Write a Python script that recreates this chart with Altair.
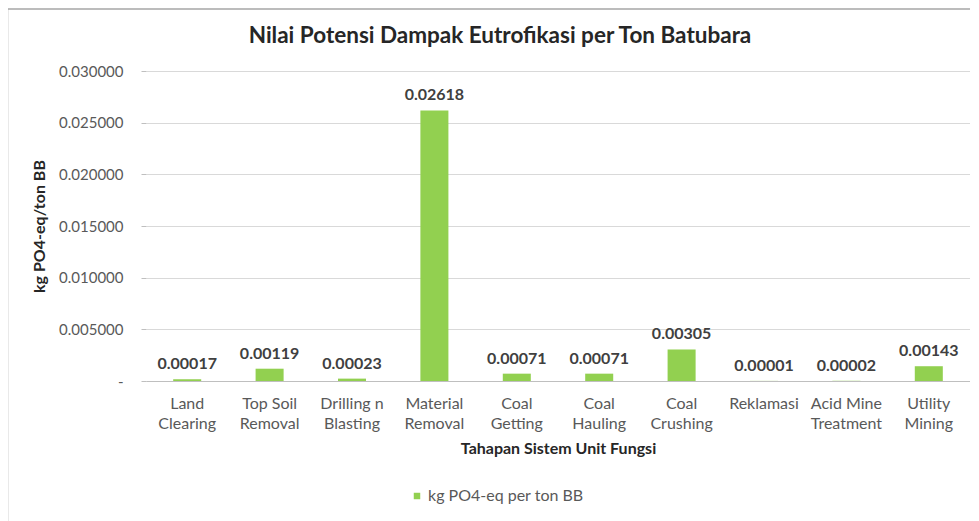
import altair as alt
import pandas as pd

categories = ["Land|Clearing", "Top Soil|Removal", "Drilling n|Blasting", "Material|Removal",
              "Coal|Getting", "Coal|Hauling", "Coal|Crushing", "Reklamasi",
              "Acid Mine|Treatment", "Utility|Mining"]
values = [0.00017, 0.00119, 0.00023, 0.02618, 0.00071, 0.00071, 0.00305, 0.00001, 0.00002, 0.00143]
series_name = "kg PO4-eq per ton BB"
y_ticks = [0, 0.005, 0.01, 0.015, 0.02, 0.025, 0.03]

df = pd.DataFrame({"cat": categories, "val": values, "series": series_name})

FONT = "Lato"
GREEN = "#92D050"

x_enc = alt.X("cat:N", sort=categories,
              scale=alt.Scale(paddingInner=0.66, paddingOuter=0.33),
              axis=alt.Axis(title="Tahapan Sistem Unit Fungsi",
                            labelExpr="split(datum.label, '|')",
                            labelAngle=0, ticks=False, labelPadding=14,
                            labelLineHeight=20, labelFontSize=16,
                            labelColor="#595959", labelFont=FONT,
                            titleFont=FONT, titleFontSize=16, titleFontWeight="bold",
                            titleColor="#262626", titlePadding=9,
                            domainColor="#BFBFBF", grid=False))
y_enc = alt.Y("val:Q", scale=alt.Scale(domain=[0, 0.03], nice=False),
              axis=alt.Axis(title="kg PO4-eq/ton BB", values=y_ticks,
                            labelExpr="datum.value == 0 ? '-' : format(datum.value, '.6f')",
                            labelFont=FONT, labelFontSize=15, labelColor="#595959",
                            labelPadding=18, tickSize=5, tickColor="#BFBFBF",
                            gridColor="#D9D9D9", domain=False,
                            titleFont=FONT, titleFontSize=16, titleFontWeight="bold",
                            titleColor="#262626", titlePadding=11))

bars = alt.Chart(df).mark_bar(color=GREEN).encode(
    x=x_enc, y=y_enc,
    color=alt.Color("series:N", scale=alt.Scale(range=[GREEN]),
                    legend=alt.Legend(title=None, orient="none", legendX=263, legendY=417,
                                      symbolType="square", symbolSize=42, labelOffset=3,
                                      labelFont=FONT, labelFontSize=16, labelColor="#595959")),
)

labels = alt.Chart(df).mark_text(baseline="bottom", dy=-7, font=FONT, fontSize=16,
                                  fontWeight="bold", color="#404040").encode(
    x=alt.X("cat:N", sort=categories), y="val:Q",
    text=alt.Text("val:Q", format=".5f"))

border = alt.Chart(pd.DataFrame({"k": [0]})).mark_rect(
    fill=None, stroke="#A6A6A6", strokeWidth=1.5).encode(
    x=alt.value(-138.5), x2=alt.value(900), y=alt.value(-62), y2=alt.value(520))

chart = alt.layer(border, bars, labels).properties(
    width=824, height=310,
    padding={"left": 138, "top": 63, "right": 0, "bottom": 140},
    autosize=alt.AutoSizeParams(type="none"),
    title=alt.TitleParams("Nilai Potensi Dampak Eutrofikasi per Ton Batubara",
                          font=FONT, fontSize=22.5, fontWeight="bold", color="#262626",
                          anchor="middle", dx=-58, offset=-39),
).configure_view(stroke=None)

chart.save("out.html", embed_options={"renderer": "svg", "actions": False})
